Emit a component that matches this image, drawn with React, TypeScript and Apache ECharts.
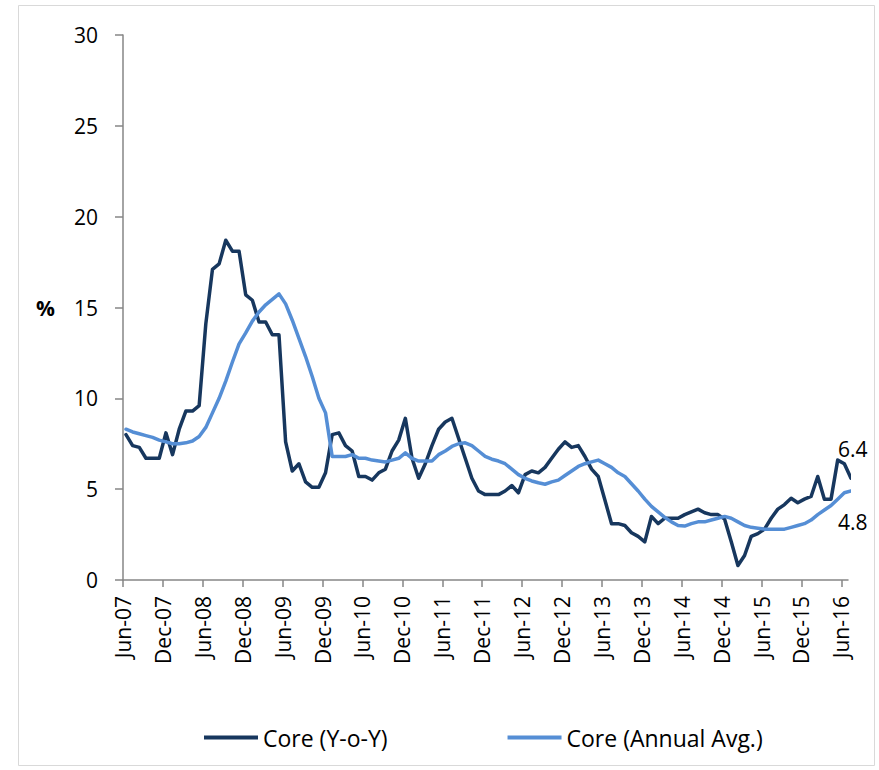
import React, { useEffect, useRef } from "react";
import * as echarts from "echarts";

const MONTHS = ["Jan", "Feb", "Mar", "Apr", "May", "Jun", "Jul", "Aug", "Sep", "Oct", "Nov", "Dec"];
const START_YEAR = 2007;
const START_MONTH = 5; // Jun
const COUNT = 110; // Jun-07 .. Jul-16

const categories: string[] = [];
for (let i = 0; i < COUNT; i++) {
  const m = (START_MONTH + i) % 12;
  const y = START_YEAR + Math.floor((START_MONTH + i) / 12);
  categories.push(`${MONTHS[m]}-${String(y % 100).padStart(2, "0")}`);
}
// labelled months every 6 months: Jun-07 ... Jun-16
const tickMonths: number[] = [];
for (let i = 0; i < COUNT; i += 6) tickMonths.push(i);

const SERIES_NAMES = ["Core (Y-o-Y)", "Core (Annual Avg.)"];

const coreYoY = [
  8.0, 7.4, 7.3, 6.7, 6.7, 6.7, 8.1, 6.9, 8.3, 9.3, 9.3, 9.6,
  14.1, 17.1, 17.4, 18.7, 18.1, 18.1, 15.7, 15.4, 14.2, 14.2, 13.5, 13.5,
  7.6, 6.0, 6.4, 5.4, 5.1, 5.1, 5.9, 8.0, 8.1, 7.4, 7.1, 5.7,
  5.7, 5.5, 5.9, 6.1, 7.1, 7.7, 8.9, 6.7, 5.6, 6.4, 7.4, 8.3,
  8.7, 8.9, 7.8, 6.7, 5.6, 4.9, 4.7, 4.7, 4.7, 4.9, 5.2, 4.8,
  5.8, 6.0, 5.9, 6.2, 6.7, 7.2, 7.6, 7.3, 7.4, 6.8, 6.1, 5.7,
  4.4, 3.1, 3.1, 3.0, 2.6, 2.4, 2.1, 3.5, 3.1, 3.4, 3.4, 3.4,
  3.6, 3.75, 3.9, 3.7, 3.6, 3.6, 3.35, 2.1, 0.8, 1.35, 2.4, 2.55,
  2.8, 3.4, 3.9, 4.15, 4.5, 4.25, 4.45, 4.6, 5.7, 4.45, 4.45, 6.6,
  6.4, 5.6,
];

const coreAnnualAvg = [
  8.3, 8.15, 8.05, 7.95, 7.85, 7.7, 7.6, 7.5, 7.5, 7.55, 7.65, 7.9,
  8.4, 9.2, 10.0, 10.95, 12.0, 13.0, 13.6, 14.25, 14.75, 15.15, 15.45, 15.75,
  15.2, 14.3, 13.3, 12.3, 11.2, 10.0, 9.2, 6.8, 6.8, 6.8, 6.9, 6.7,
  6.7, 6.6, 6.55, 6.5, 6.6, 6.7, 7.0, 6.7, 6.55, 6.55, 6.55, 6.9,
  7.1, 7.35, 7.5, 7.55, 7.4, 7.1, 6.8, 6.65, 6.55, 6.4, 6.1, 5.8,
  5.6, 5.45, 5.35, 5.27, 5.4, 5.5, 5.75, 6.0, 6.25, 6.4, 6.5, 6.6,
  6.4, 6.2, 5.9, 5.7, 5.3, 4.9, 4.45, 4.05, 3.75, 3.45, 3.2, 3.0,
  2.97, 3.1, 3.2, 3.2, 3.3, 3.4, 3.5, 3.4, 3.2, 3.0, 2.9, 2.85,
  2.8, 2.8, 2.8, 2.8, 2.9, 3.0, 3.1, 3.3, 3.6, 3.85, 4.1, 4.45,
  4.8, 4.9,
];

const LABELLED_INDEX = 108; // Jun-16
// monthly observations sit a little after each month's tick (mid-month)
const MONTH_OFFSET = 0.45;

const FONT = "Open Sans";
const DARK = "#17375E";
const LIGHT = "#558ED5";
const AXIS = "#868686";

function toPoints(values: number[], idx: number, pos: number[]) {
  return values.map((v, i) => {
    const value = [i + MONTH_OFFSET, v];
    if (i !== idx) return value;
    return {
      value,
      label: {
        show: true,
        position: pos,
        align: "center",
        verticalAlign: "middle",
        fontFamily: FONT,
        fontSize: 21,
        color: "#000",
        formatter: (p: any) => Number(p.value[1]).toFixed(1),
      },
    };
  });
}

export default function App() {
  const ref = useRef<HTMLDivElement>(null);

  useEffect(() => {
    if (!ref.current) return;
    const chart = echarts.init(ref.current, undefined, { renderer: "svg" });
    chart.setOption({
      animation: false,
      backgroundColor: "#ffffff",
      textStyle: { fontFamily: FONT },
      graphic: [
        {
          type: "rect",
          silent: true,
          shape: { x: 18.5, y: 5.5, width: 856, height: 760 },
          style: { fill: "none", stroke: "#d9d9d9", lineWidth: 1 },
        },
      ],
      grid: { left: 123, right: 31, top: 35, bottom: 190, containLabel: false },
      legend: {
        left: 199,
        top: 721,
        icon: "rect",
        itemWidth: 54,
        itemHeight: 4,
        itemGap: 120,
        data: SERIES_NAMES,
        textStyle: { fontFamily: FONT, fontSize: 23, color: "#000" },
      },
      xAxis: {
        type: "value",
        min: 0,
        max: COUNT - 1,
        interval: 6,
        axisLine: { show: true, lineStyle: { color: AXIS, width: 1.5 } },
        axisTick: { show: true, customValues: tickMonths, length: 7, lineStyle: { color: AXIS, width: 1.5 } },
        axisLabel: {
          customValues: tickMonths,
          rotate: 90,
          margin: 16,
          fontFamily: FONT,
          fontSize: 21,
          color: "#000",
          formatter: (v: number) => categories[Math.round(v)] ?? "",
        },
        splitLine: { show: false },
      },
      yAxis: {
        type: "value",
        min: 0,
        max: 30,
        interval: 5,
        name: "%",
        nameLocation: "middle",
        nameRotate: 0,
        nameGap: 68,
        nameTextStyle: { fontFamily: FONT, fontWeight: "bold", fontSize: 21, color: "#000", padding: [18, 0, 0, 0] },
        axisLine: { show: true, lineStyle: { color: AXIS, width: 1.5 } },
        axisTick: { show: true, length: 8, lineStyle: { color: AXIS, width: 1.5 } },
        axisLabel: { margin: 25, fontFamily: FONT, fontSize: 21, color: "#000" },
        splitLine: { show: false },
      },
      series: [
        {
          name: SERIES_NAMES[0],
          type: "line",
          data: toPoints(coreYoY, LABELLED_INDEX, [8.5, -15]),
          symbol: "circle",
          symbolSize: 0,
          showSymbol: true,
          showAllSymbol: true,
          clip: false,
          itemStyle: { color: DARK },
          lineStyle: { color: DARK, width: 3.5, cap: "round", join: "round" },
          emphasis: { disabled: true },
        },
        {
          name: SERIES_NAMES[1],
          type: "line",
          data: toPoints(coreAnnualAvg, LABELLED_INDEX, [8.5, 29]),
          symbol: "circle",
          symbolSize: 0,
          showSymbol: true,
          showAllSymbol: true,
          clip: false,
          itemStyle: { color: LIGHT },
          lineStyle: { color: LIGHT, width: 3.5, cap: "round", join: "round" },
          emphasis: { disabled: true },
        },
      ],
    });
    return () => chart.dispose();
  }, []);

  return (
    <div
      ref={ref}
      style={{ position: "fixed", left: 0, top: 0, width: 879, height: 770, background: "#fff" }}
    />
  );
}
